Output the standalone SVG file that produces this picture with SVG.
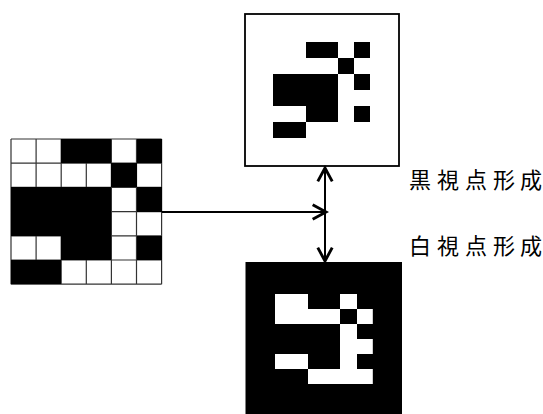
<svg xmlns="http://www.w3.org/2000/svg" width="543" height="414" viewBox="0 0 543 414">
  <style>
    .cells { fill: #000; shape-rendering: crispEdges; }
    .grid { stroke: #333; stroke-width: 1.2; fill: none; }
    .frame { fill: #fff; stroke: #000; stroke-width: 1.8; }
    .wire { stroke: #000; stroke-width: 2; fill: none; }
    .label { font-family: "Noto Sans CJK JP", "Noto Sans CJK SC", sans-serif; font-size: 22px; fill: #000; }
  </style>
  <defs>
    <!-- 6x6 mark, black cells in unit coordinates -->
    <g id="mark" class="cells">
      <rect x="2" y="0" width="2" height="1"/>
      <rect x="5" y="0" width="1" height="1"/>
      <rect x="4" y="1" width="1" height="1"/>
      <rect x="0" y="2" width="4" height="2"/>
      <rect x="5" y="2" width="1" height="1"/>
      <rect x="2" y="4" width="2" height="1"/>
      <rect x="5" y="4" width="1" height="1"/>
      <rect x="0" y="5" width="2" height="1"/>
    </g>
    <marker id="chevron" markerUnits="userSpaceOnUse" markerWidth="20" markerHeight="20" viewBox="-14 -9 16 18" refX="0" refY="0" orient="auto-start-reverse">
      <path d="M-12,-6.5 L0,0 L-12,6.5" fill="none" stroke="#000" stroke-width="2.6" stroke-linejoin="miter"/>
    </marker>
  </defs>

  <rect width="543" height="414" fill="#fff"/>

  <!-- source pattern grid: ruled cells, dark cells painted over -->
  <g id="source">
    <rect x="11" y="139" width="150.6" height="145.2" fill="#fff"/>
    <path class="grid" d="M11,139V284.2M36.1,139V284.2M61.2,139V284.2M86.3,139V284.2M111.4,139V284.2M136.5,139V284.2M161.6,139V284.2
      M11,139H161.6M11,163.2H161.6M11,187.4H161.6M11,211.6H161.6M11,235.8H161.6M11,260H161.6M11,284.2H161.6"/>
    <use href="#mark" transform="translate(11,139) scale(25.1,24.2)"/>
  </g>

  <!-- black viewpoint: dark cells on a white field -->
  <g id="black-view">
    <rect class="frame" x="245" y="14" width="154" height="152"/>
    <use href="#mark" transform="translate(273.3,41.7) scale(16.2,16)"/>
  </g>

  <!-- white viewpoint: light cells on a dark field -->
  <g id="white-view">
    <rect x="245.5" y="262" width="156.5" height="152" fill="#000"/>
    <rect x="275" y="294" width="97.8" height="90" fill="#fff"/>
    <use href="#mark" transform="translate(275,294) scale(16.3,15)"/>
  </g>

  <g id="labels">
    <text class="label" x="409 437 465 493 520" y="188">黒視点形成</text>
    <text class="label" x="409 437 465 493 520" y="254">白視点形成</text>
  </g>

  <g id="connectors">
    <path class="wire" d="M162,212H326" marker-end="url(#chevron)"/>
    <path class="wire" d="M325,168V261" marker-start="url(#chevron)" marker-end="url(#chevron)"/>
  </g>
</svg>
